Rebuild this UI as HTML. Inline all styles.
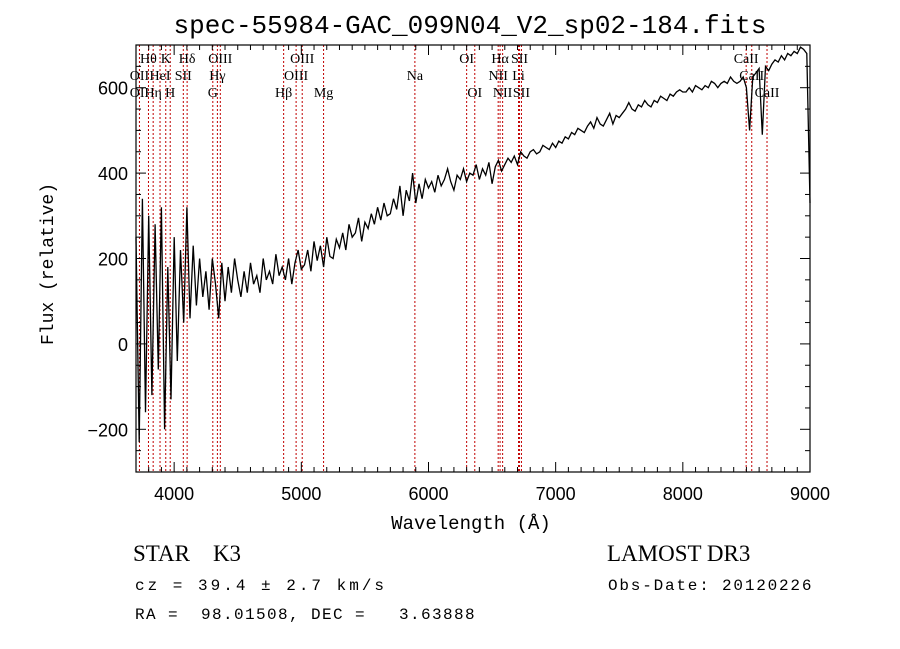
<!DOCTYPE html>
<html><head><meta charset="utf-8"><style>
html,body{margin:0;padding:0;background:#fff;width:900px;height:649px;overflow:hidden}
svg{display:block}
.mono{font-family:"Liberation Mono",monospace}
.ser{font-family:"Liberation Serif",serif}
</style></head><body>
<svg id="chart" width="900" height="649" xmlns="http://www.w3.org/2000/svg">
<rect width="900" height="649" fill="#fff"/>
<text x="470" y="33" text-anchor="middle" class="mono" font-size="26">spec-55984-GAC_099N04_V2_sp02-184.fits</text>
<g id="lines"></g>
<g id="ticks"></g>
<path id="spec" fill="none" stroke="#000" stroke-width="1.3"/>
<rect x="136" y="45" width="674" height="427" fill="none" stroke="#000" stroke-width="1.2"/>
<text x="471" y="529" text-anchor="middle" class="mono" font-size="19">Wavelength (Å)</text>
<text transform="translate(53,264) rotate(-90)" text-anchor="middle" class="mono" font-size="18">Flux (relative)</text>
<text x="133" y="561" class="ser" font-size="23" xml:space="preserve">STAR    K3</text>
<text x="607" y="561" class="ser" font-size="23">LAMOST DR3</text>
<text x="135" y="590" class="mono" font-size="16" letter-spacing="3">cz = 39.4 ± 2.7 km/s</text>
<text x="608" y="590" class="mono" font-size="16" letter-spacing="1.8">Obs-Date: 20120226</text>
<text x="135" y="619" class="mono" font-size="16" letter-spacing="1.4" xml:space="preserve">RA =  98.01508, DEC =   3.63888</text>
</svg>
<script>
const xTicks=[4000,5000,6000,7000,8000,9000];
const yTicks=[-200,0,200,400,600];
const lineWaves=[3727,3798,3835,3889,3934,3969,4072,4102,4304,4340,4363,4861,4959,5007,5175,5893,6300,6364,6548,6563,6583,6708,6716,6731,8498,8542,8662];
const labelText=["Hθ","K","Hδ","OIII","OIII","OI","Hα","SII","CaII","OII","HeI","SII","Hγ","OIII","Na","NII","Li","CaII","OII","Hη","H","G","Hβ","Mg","OI","NII","SII","CaII"];
const labelWave=[3798,3934,4102,4363,5007,6300,6563,6716,8498,3727,3889,4072,4340,4959,5893,6548,6708,8542,3727,3835,3969,4304,4861,5175,6364,6583,6731,8662];
const labelRow=[0,0,0,0,0,0,0,0,0,1,1,1,1,1,1,1,1,1,2,2,2,2,2,2,2,2,2,2];
const waveStart=3700, waveStep=25;
const flux=[250,-230,340,-160,300,-120,280,-60,320,-200,180,-130,250,-40,220,50,320,
60,230,90,200,110,170,80,200,140,60,190,100,180,120,200,150,
110,170,120,190,140,160,120,200,150,170,140,210,160,180,150,200,140,190,220,175,
185,220,170,240,195,230,180,250,205,200,245,225,260,220,280,250,260,295,240,285,
270,305,280,320,290,330,300,305,340,315,370,300,360,335,400,330,375,340,385,365,
380,355,395,370,385,410,380,360,395,385,410,380,400,395,420,385,410,395,425,375,
415,430,405,420,435,425,440,420,450,440,435,450,455,445,450,465,460,455,470,460,
475,470,485,480,495,490,505,500,495,510,520,505,530,515,510,525,540,515,535,530,
540,550,565,550,545,560,555,570,560,555,570,565,580,575,570,585,580,590,595,590,
590,600,590,605,600,595,605,600,615,610,600,610,615,610,625,615,610,615,625,600,
500,625,635,645,490,650,640,655,665,660,675,665,680,675,685,680,695,690,680,330];
const X=w=>136+(w-3700)*(674/5300);
const Y=f=>472-(f+300)*(427/1000);
const NS="http://www.w3.org/2000/svg";
function mk(tag,attrs,parent){const e=document.createElementNS(NS,tag);for(const k in attrs)e.setAttribute(k,attrs[k]);parent.appendChild(e);return e;}
let d="";flux.forEach((f,i)=>{d+=(i?"L":"M")+X(waveStart+i*waveStep).toFixed(1)+","+Y(f).toFixed(1);});
document.getElementById('spec').setAttribute('d',d);
const lg=document.getElementById('lines');
lineWaves.forEach(w=>{const l=mk('line',{x1:X(w),x2:X(w),y1:45,y2:472,stroke:'#c00000','stroke-width':1,'stroke-dasharray':'2,2'},lg);

});
labelText.forEach((t,i)=>{const e=mk('text',{x:X(labelWave[i]),y:63+labelRow[i]*17,'text-anchor':'middle','font-size':14,'font-family':'"Liberation Serif",serif'},lg);e.textContent=t;

});
const tg=document.getElementById('ticks');
for(let w=3800;w<=9000;w+=100){const maj=w%1000===0;const L=maj?10:5;
mk('line',{x1:X(w),x2:X(w),y1:472,y2:472-L,stroke:'#000'},tg);mk('line',{x1:X(w),x2:X(w),y1:45,y2:45+L,stroke:'#000'},tg);}
for(let f=-300;f<=700;f+=50){const maj=f%200===0;const L=maj?10:5;
mk('line',{x1:136,x2:136+L,y1:Y(f),y2:Y(f),stroke:'#000'},tg);mk('line',{x1:810,x2:810-L,y1:Y(f),y2:Y(f),stroke:'#000'},tg);}
xTicks.forEach(v=>{const e=mk('text',{x:X(v),y:500,'text-anchor':'middle','font-size':18,'font-family':'"Liberation Sans",sans-serif'},tg);e.textContent=v;

});
yTicks.forEach(v=>{const e=mk('text',{x:128,y:Y(v)+7,'text-anchor':'end','font-size':18,'font-family':'"Liberation Sans",sans-serif'},tg);e.textContent=(v<0?"−":"")+Math.abs(v);

});
</script>
</body></html>
